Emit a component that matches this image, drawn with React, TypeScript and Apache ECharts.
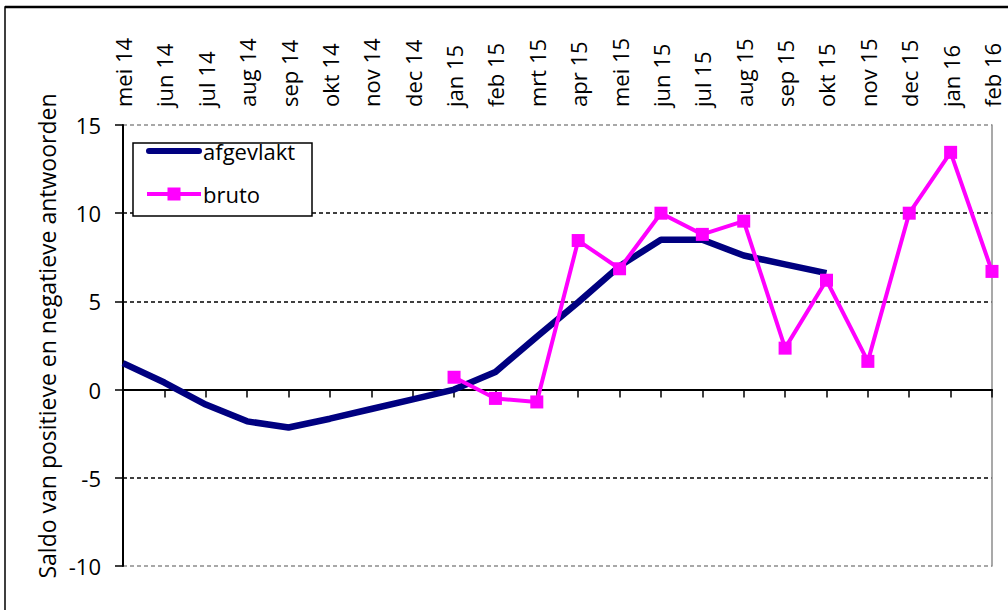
import React, { useEffect, useRef } from "react";
import * as echarts from "echarts";

const categories = [
  "mei 14", "jun 14", "jul 14", "aug 14", "sep 14", "okt 14", "nov 14", "dec 14",
  "jan 15", "feb 15", "mrt 15", "apr 15", "mei 15", "jun 15", "jul 15", "aug 15",
  "sep 15", "okt 15", "nov 15", "dec 15", "jan 16", "feb 16",
];

const afgevlakt = [
  1.5, 0.4, -0.85, -1.8, -2.15, -1.65, -1.1, -0.55,
  0.0, 1.0, 3.0, 4.95, 7.0, 8.5, 8.5, 7.6,
  7.1, 6.6, null, null, null, null,
];

const bruto = [
  null, null, null, null, null, null, null, null,
  0.7, -0.5, -0.7, 8.45, 6.85, 10.0, 8.8, 9.55,
  2.35, 6.2, 1.6, 10.0, 13.45, 6.7,
];

const yTicks = [-10, -5, 0, 5, 10, 15];
const yTitle = "Saldo van positieve en negatieve antwoorden";

const FONT = "Open Sans";
const lineIcon =
  "path://M0,0 L0.01,0 L0.01,0.01 Z M3,4 L53,4 A3,3 0 0 1 53,10 L3,10 A3,3 0 0 1 3,4 Z M55.99,14 L56,14 L56,13.99 Z";
const markerIcon =
  "path://M1,5 L21.5,5 L21.5,0.5 L34.5,0.5 L34.5,5 L55,5 L55,9 L34.5,9 L34.5,13.5 L21.5,13.5 L21.5,9 L1,9 Z M0,0 L0.01,0 L0.01,0.01 Z M55.99,14 L56,14 L56,13.99 Z";

export default function App() {
  const ref = useRef<HTMLDivElement>(null);

  useEffect(() => {
    if (!ref.current) return;
    const chart = echarts.init(ref.current, undefined, { renderer: "svg" });
    const splitColors = yTicks.map((v, i) =>
      i === 0 || i === yTicks.length - 1 ? "#8c8c8c" : "#000000"
    );
    chart.setOption({
      animation: false,
      backgroundColor: "#ffffff",
      textStyle: { fontFamily: FONT, color: "#000" },
      grid: { left: 123, right: 16, top: 125, bottom: 44, containLabel: false },
      graphic: [
        {
          type: "rect",
          shape: { x: 5, y: 7, width: 1200, height: 800 },
          style: { fill: "none", stroke: "#000", lineWidth: 1.5 },
          silent: true,
          z: -10,
        },
        {
          type: "line",
          shape: { x1: 5, y1: 7, x2: 1008, y2: 7 },
          style: { stroke: "#000", lineWidth: 2.5 },
          silent: true,
        },
        {
          type: "rect",
          shape: { x: 133, y: 143, width: 179, height: 73 },
          style: { fill: "#fff", stroke: "#000", lineWidth: 1.5 },
          silent: true,
          z: 3,
        },
        {
          type: "text",
          x: 47,
          y: 336,
          rotation: Math.PI / 2,
          style: {
            text: yTitle,
            fontSize: 23,
            fontFamily: FONT,
            fill: "#000",
            align: "center",
            verticalAlign: "middle",
          },
          silent: true,
        },
      ],
      legend: {
        orient: "vertical",
        left: 146,
        top: 140,
        padding: 0,
        itemGap: 21,
        itemWidth: 56,
        itemHeight: 14,
        z: 5,
        textStyle: { fontSize: 22, fontFamily: FONT, color: "#000", padding: [0, 0, 0, -4] },
        data: [
          { name: "afgevlakt", icon: lineIcon },
          { name: "bruto", icon: markerIcon },
        ],
      },
      xAxis: [
        {
          type: "category",
          data: categories,
          boundaryGap: false,
          axisLine: { onZero: true, lineStyle: { color: "#000", width: 2 } },
          axisTick: { show: true, interval: 0, length: 8, lineStyle: { color: "#000", width: 1.5 } },
          axisLabel: { show: false },
          splitLine: { show: false },
        },
        {
          type: "category",
          data: categories,
          position: "top",
          boundaryGap: false,
          axisLine: { show: false },
          axisTick: { show: false },
          axisLabel: {
            show: true,
            interval: 0,
            rotate: 90,
            fontSize: 22,
            fontFamily: FONT,
            color: "#000",
            margin: 18,
          },
          splitLine: { show: false },
        },
      ],
      yAxis: [
        {
          type: "value",
          min: -10,
          max: 15,
          interval: 5,
          axisLine: { show: true, onZero: false, lineStyle: { color: "#000", width: 2 } },
          axisTick: { show: true, length: 8, lineStyle: { color: "#000", width: 1.5 } },
          axisLabel: { fontSize: 22, fontFamily: FONT, color: "#000", margin: 22 },
          splitLine: {
            show: true,
            lineStyle: { color: splitColors, type: [4, 3], width: 1.5 },
          },
        },
        {
          type: "value",
          min: -10,
          max: 15,
          interval: 5,
          position: "right",
          axisLine: { show: true, onZero: false, lineStyle: { color: "#8c8c8c", width: 1.5 } },
          axisTick: { show: false },
          axisLabel: { show: false },
          splitLine: { show: false },
        },
      ],
      series: [
        {
          name: "afgevlakt",
          type: "line",
          xAxisIndex: 0,
          yAxisIndex: 0,
          data: afgevlakt,
          showSymbol: false,
          symbol: "none",
          connectNulls: false,
          lineStyle: { color: "#000080", width: 6.5 },
          itemStyle: { color: "#000080" },
          z: 2,
        },
        {
          name: "bruto",
          type: "line",
          xAxisIndex: 0,
          yAxisIndex: 0,
          data: bruto,
          symbol: "rect",
          symbolSize: 13,
          showSymbol: true,
          lineStyle: { color: "#ff00ff", width: 4 },
          itemStyle: { color: "#ff00ff" },
          z: 3,
        },
      ],
    });
    return () => chart.dispose();
  }, []);

  return (
    <div
      ref={ref}
      style={{ position: "absolute", left: 0, top: 0, width: 1008, height: 610 }}
    />
  );
}
